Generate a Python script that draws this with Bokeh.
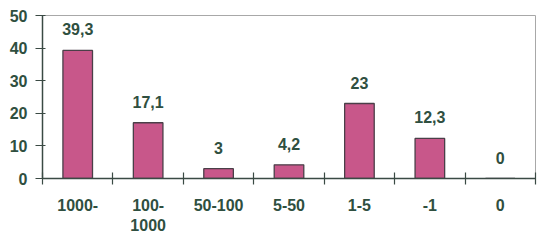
from bokeh.plotting import figure
from bokeh.models import ColumnDataSource, FixedTicker, Range1d
from bokeh.core.properties import value
from bokeh.embed import file_html
from bokeh.resources import INLINE

categories = ["1000-", "100-\n1000", "50-100", "5-50", "1-5", "-1", "0"]
values = [39.3, 17.1, 3, 4.2, 23, 12.3, 0]
value_labels = ["39,3", "17,1", "3", "4,2", "23", "12,3", "0"]
y_ticks = [0, 10, 20, 30, 40, 50]

TXT = "#2f4f40"
FONT = "Liberation Sans"

xc = [i + 0.5 for i in range(len(categories))]
src = ColumnDataSource(dict(x=xc, top=values, lab=value_labels))

p = figure(frame_width=493, frame_height=163, min_border_left=42, min_border_right=10,
           min_border_top=15, min_border_bottom=68,
           x_range=Range1d(0, len(categories)), y_range=Range1d(0, 50),
           output_backend="svg", toolbar_location=None)
p.background_fill_color = "white"
p.border_fill_color = "white"
p.outline_line_color = "#a8a8a8"
p.outline_line_width = 1
p.xgrid.visible = False
p.ygrid.visible = False

p.vbar(x="x", top="top", bottom=0, width=0.42, source=src,
       fill_color="#c8578a", line_color="#4a3f48", line_width=1.3)
p.text(x="x", y="top", text="lab", source=src, text_align="center",
       text_baseline="alphabetic", y_offset=-21,
       text_font=value(FONT), text_font_style="bold", text_font_size="16px",
       text_color=TXT)

# x axis: boundary ticks as minor ticks, labels at centers
xa = p.xaxis[0]
xa.ticker = FixedTicker(ticks=xc, minor_ticks=list(range(len(categories) + 1)))
xa.major_label_overrides = {v: c for v, c in zip(xc, categories)}
xa.major_tick_line_color = None
xa.major_tick_in = 0
xa.major_tick_out = 0
xa.minor_tick_in = 6
xa.minor_tick_out = 6
xa.minor_tick_line_color = "#3a4a44"
xa.minor_tick_line_width = 1.2
xa.axis_line_color = "#3a4a44"
xa.axis_line_width = 1.5
xa.major_label_standoff = 12
xa.major_label_text_font = FONT
xa.major_label_text_font_style = "bold"
xa.major_label_text_font_size = "16px"
xa.major_label_text_color = TXT

ya = p.yaxis[0]
ya.ticker = FixedTicker(ticks=y_ticks, minor_ticks=[])
ya.major_tick_in = 3
ya.major_tick_out = 7
ya.major_tick_line_color = "#3a4a44"
ya.major_tick_line_width = 1.2
ya.minor_tick_line_color = None
ya.axis_line_color = "#3a4a44"
ya.axis_line_width = 1.5
ya.major_label_standoff = 8
ya.major_label_text_font = FONT
ya.major_label_text_font_style = "bold"
ya.major_label_text_font_size = "16px"
ya.major_label_text_color = TXT

open("out.html", "w").write(file_html(p, INLINE))
